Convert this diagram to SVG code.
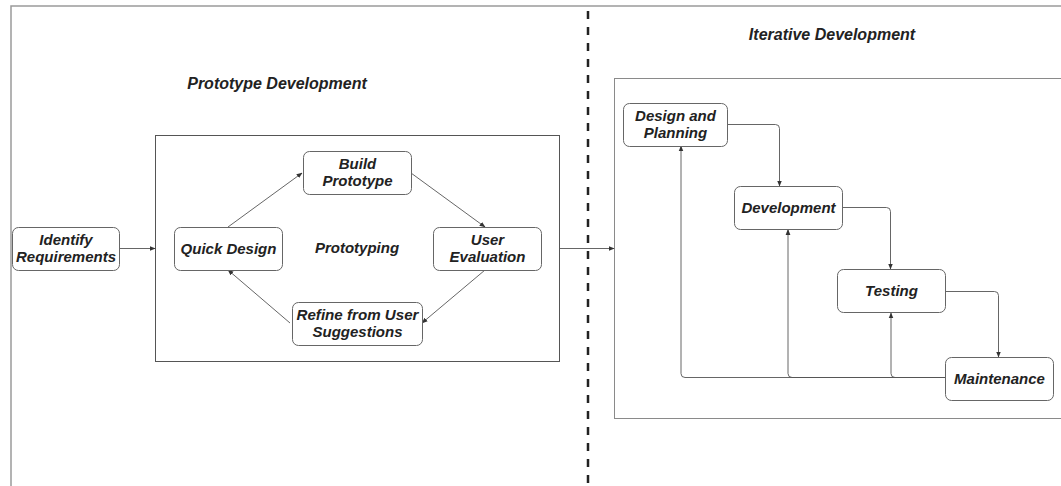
<svg xmlns="http://www.w3.org/2000/svg" width="1061" height="486" viewBox="0 0 1061 486">
  <style>
    .frame { fill: none; stroke: #9a9a9a; stroke-width: 1.5; }
    .box { fill: #ffffff; stroke: #555555; stroke-width: 1; }
    .ibox { fill: #ffffff; stroke: #8a8a8a; stroke-width: 1; }
    .node rect { fill: #ffffff; stroke: #666666; stroke-width: 1; }
    .lbl { font-family: "Liberation Sans", Arial, sans-serif; font-weight: bold; font-style: italic; font-size: 15px; fill: #222222; text-anchor: middle; }
    .title { font-family: "Liberation Sans", Arial, sans-serif; font-weight: bold; font-style: italic; font-size: 16px; fill: #222222; text-anchor: middle; }
    .edge { fill: none; stroke: #555555; stroke-width: 0.9; marker-end: url(#arrow); }
    .divider { fill: none; stroke: #222222; stroke-width: 2.5; stroke-dasharray: 8 8; }
  </style>
  <defs>
    <marker id="arrow" viewBox="0 0 10 10" refX="9" refY="5" markerWidth="6" markerHeight="6" orient="auto" markerUnits="userSpaceOnUse">
      <path d="M0,1 L10,5 L0,9 Z" fill="#333333"/>
    </marker>
  </defs>

  <rect width="1061" height="486" fill="#ffffff"/>

  <!-- outer frame (top and left edges) -->
  <path class="frame" d="M11,486 V6 H1061"/>

  <!-- phase divider -->
  <line class="divider" x1="588" y1="11" x2="588" y2="486"/>

  <!-- section titles -->
  <text class="title" x="277" y="89">Prototype Development</text>
  <text class="title" x="832" y="40">Iterative Development</text>

  <!-- containers -->
  <rect class="box" x="155.5" y="135.5" width="404" height="226"/>
  <rect class="ibox" x="614.5" y="78.5" width="460" height="340"/>

  <text class="lbl" x="357" y="253">Prototyping</text>

  <!-- connectors -->
  <g id="connectors">
    <line class="edge" x1="119" y1="248.5" x2="155" y2="248.5"/>
    <line class="edge" x1="228" y1="227" x2="302" y2="173"/>
    <line class="edge" x1="411" y1="173" x2="485" y2="227"/>
    <line class="edge" x1="485" y1="270" x2="422" y2="323"/>
    <line class="edge" x1="290" y1="323" x2="228" y2="270"/>
    <line class="edge" x1="560" y1="248.5" x2="614" y2="248.5"/>

    <path class="edge" d="M727,124.5 H775.5 Q779.5,124.5 779.5,128.5 V186"/>
    <path class="edge" d="M842,207.5 H886.5 Q890.5,207.5 890.5,211.5 V269"/>
    <path class="edge" d="M945,291.5 H994.5 Q998.5,291.5 998.5,295.5 V357"/>

    <path class="edge" d="M945,377.5 H685 Q681,377.5 681,373.5 V146"/>
    <path class="edge" d="M945,377.5 H792 Q788,377.5 788,373.5 V229.5"/>
    <path class="edge" d="M945,377.5 H895 Q891,377.5 891,373.5 V313"/>
  </g>

  <!-- prototype phase nodes -->
  <g id="identify" class="node">
    <rect x="12.5" y="227.5" width="107" height="43" rx="6"/>
    <text class="lbl" x="66" y="244.5">Identify</text>
    <text class="lbl" x="66" y="262">Requirements</text>
  </g>
  <g id="quick-design" class="node">
    <rect x="174.5" y="227.5" width="108" height="43" rx="6"/>
    <text class="lbl" x="228.5" y="254">Quick Design</text>
  </g>
  <g id="build-prototype" class="node">
    <rect x="303.5" y="151.5" width="108" height="43" rx="6"/>
    <text class="lbl" x="357.5" y="168.5">Build</text>
    <text class="lbl" x="357.5" y="186">Prototype</text>
  </g>
  <g id="user-evaluation" class="node">
    <rect x="433.5" y="227.5" width="108" height="43" rx="6"/>
    <text class="lbl" x="487.5" y="244.5">User</text>
    <text class="lbl" x="487.5" y="262">Evaluation</text>
  </g>
  <g id="refine" class="node">
    <rect x="292.5" y="302.5" width="130" height="43" rx="6"/>
    <text class="lbl" x="357.5" y="319.5" textLength="122" lengthAdjust="spacingAndGlyphs">Refine from User</text>
    <text class="lbl" x="357.5" y="337">Suggestions</text>
  </g>

  <!-- iterative phase nodes -->
  <g id="design-planning" class="node">
    <rect x="623.5" y="103.5" width="104" height="43" rx="6"/>
    <text class="lbl" x="675.5" y="120.5">Design and</text>
    <text class="lbl" x="675.5" y="138">Planning</text>
  </g>
  <g id="development" class="node">
    <rect x="734.5" y="186.5" width="108" height="43" rx="6"/>
    <text class="lbl" x="788.5" y="213">Development</text>
  </g>
  <g id="testing" class="node">
    <rect x="837.5" y="269.5" width="108" height="43" rx="6"/>
    <text class="lbl" x="891.5" y="296">Testing</text>
  </g>
  <g id="maintenance" class="node">
    <rect x="945.5" y="357.5" width="108" height="43" rx="6"/>
    <text class="lbl" x="999.5" y="384">Maintenance</text>
  </g>
</svg>
